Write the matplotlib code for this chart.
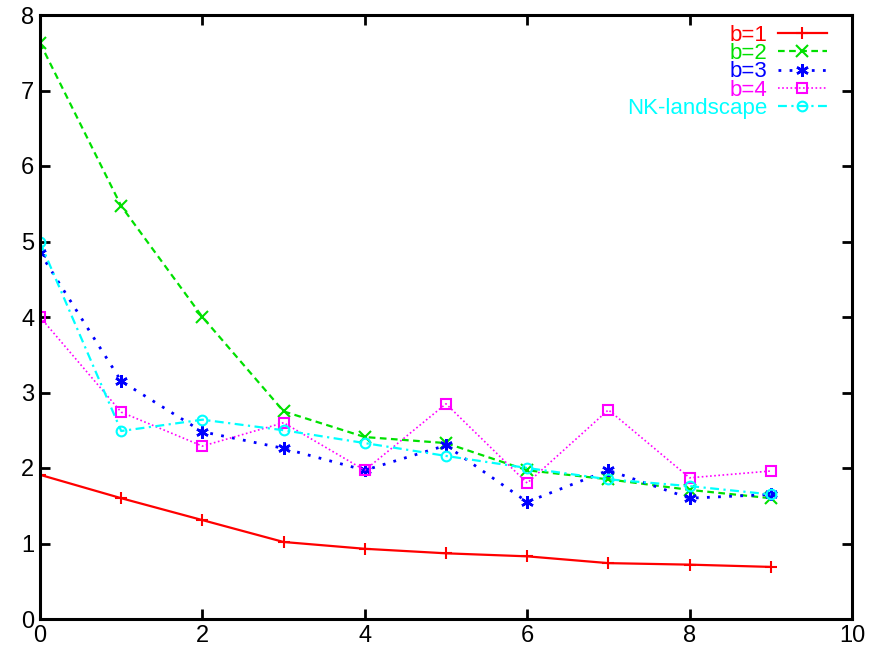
import numpy as np
import matplotlib
matplotlib.use('Agg')
import matplotlib.pyplot as plt
from matplotlib import font_manager

names = {f.name for f in font_manager.fontManager.ttflist}
narrow = [n for n in ['Liberation Sans Narrow', 'DejaVu Sans Condensed'] if n in names]
plt.rcParams['font.family'] = narrow + ['Liberation Sans', 'DejaVu Sans']

x = np.arange(10)
b1 = [1.91, 1.60, 1.31, 1.02, 0.93, 0.87, 0.83, 0.74, 0.72, 0.69]
b2 = [7.63, 5.47, 4.00, 2.75, 2.41, 2.33, 1.97, 1.85, 1.71, 1.60]
b3 = [4.85, 3.15, 2.48, 2.26, 1.97, 2.30, 1.55, 1.97, 1.60, 1.65]
b4 = [4.00, 2.74, 2.29, 2.60, 1.97, 2.85, 1.80, 2.77, 1.87, 1.96]
nk = [4.99, 2.49, 2.64, 2.50, 2.33, 2.16, 2.00, 1.85, 1.76, 1.65]

fig = plt.figure(figsize=(8.78, 6.47), dpi=100)
ax = fig.add_axes([40/878, 28/647, 812/878, 604/647])

ax.plot(x, b1, color='#ff0000', ls='-', lw=1.6, marker='+', ms=9, mew=1.5, label='b=1')
ax.plot(x, b2, color='#00e000', ls=(0, (3, 2)), lw=1.6, marker='x', ms=8, mew=1.5, label='b=2')
ax.plot(x, b3, color='#0000ff', ls=(0, (1, 3)), lw=2.0, marker=(6, 2, 0), ms=9, mew=1.8, label='b=3')
ax.plot(x, b4, color='#ff00ff', ls=(0, (1, 1.5)), lw=1.2, marker='s', ms=7, mfc='none', mew=1.5, label='b=4')
ax.plot(x, nk, color='#00ffff', ls=(0, (4, 2, 1, 2)), lw=1.6, marker='o', ms=7, mfc='none', mew=1.5, label='NK-landscape')

ax.set_xlim(0, 10)
ax.set_ylim(0, 8)
ax.set_xticks(range(0, 11, 2))
ax.set_yticks(range(0, 9))
ax.tick_params(direction='in', length=7, width=2, top=True, right=True, labelsize=17, pad=4)
for s in ax.spines.values():
    s.set_linewidth(2.2)

leg = ax.legend(loc='upper right', frameon=False, markerfirst=False, labelcolor='linecolor',
                prop={'family': ['Liberation Sans', 'DejaVu Sans'], 'size': 16},
                labelspacing=-0.12, handlelength=2.2, handletextpad=0.45,
                borderaxespad=0.0, borderpad=0.3, bbox_to_anchor=(0.977, 0.995))

fig.savefig('out.png', dpi=100)
